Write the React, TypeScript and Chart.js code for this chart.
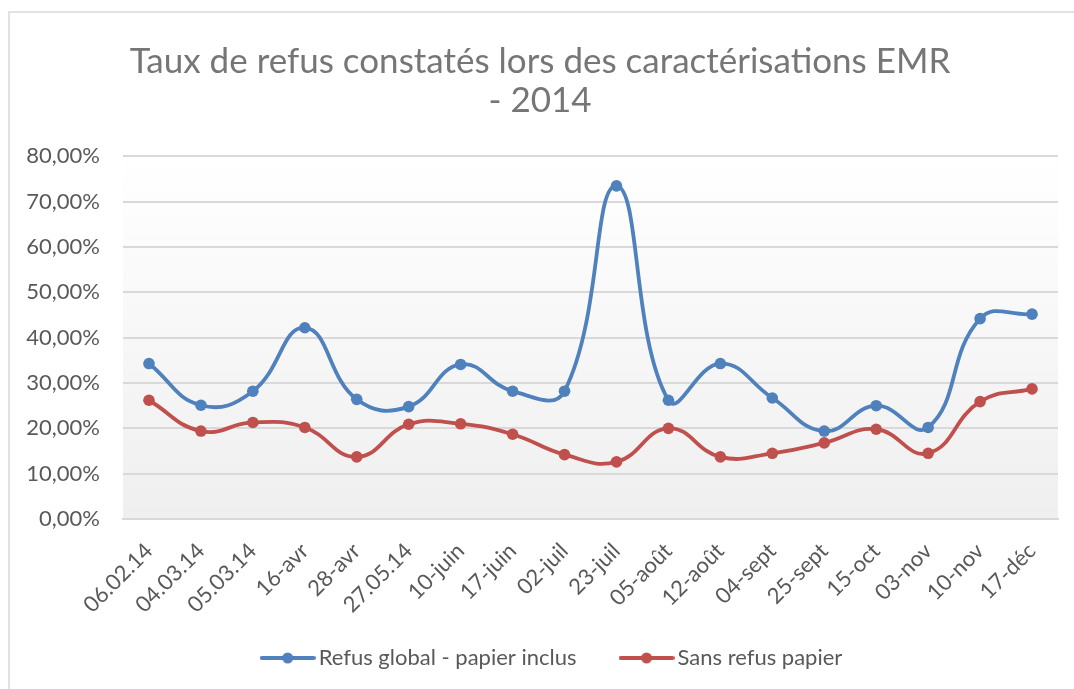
import React, { useEffect, useRef } from "react";
import { Chart, registerables } from "chart.js";

Chart.register(...registerables);

const categories = [
  "06.02.14", "04.03.14", "05.03.14", "16-avr", "28-avr", "27.05.14", "10-juin", "17-juin", "02-juil",
  "23-juil", "05-août", "12-août", "04-sept", "25-sept", "15-oct", "03-nov", "10-nov", "17-déc",
];
const refusGlobal = [34.3, 25.1, 28.2, 42.2, 26.4, 24.8, 34.1, 28.2, 28.2, 73.5, 26.2, 34.3, 26.7, 19.4, 25.0, 20.2, 44.2, 45.2];
const sansRefusPapier = [26.2, 19.4, 21.3, 20.2, 13.7, 20.9, 21.0, 18.7, 14.2, 12.6, 20.0, 13.7, 14.5, 16.8, 19.8, 14.5, 25.9, 28.7];
const seriesNames = ["Refus global - papier inclus", "Sans refus papier"];
const titleLines = ["Taux de refus constatés lors des caractérisations EMR", "- 2014"];

const BLUE = "#4f81bd";
const RED = "#c0504d";
const FONT = "Lato, 'Open Sans', sans-serif";

function legendIcon(color: string): HTMLCanvasElement {
  const c = document.createElement("canvas");
  c.width = 56;
  c.height = 14;
  const g = c.getContext("2d")!;
  g.strokeStyle = color;
  g.lineWidth = 4;
  g.lineCap = "round";
  g.beginPath();
  g.moveTo(2, 7);
  g.lineTo(54, 7);
  g.stroke();
  g.fillStyle = color;
  g.beginPath();
  g.arc(28, 7, 5.5, 0, Math.PI * 2);
  g.fill();
  return c;
}

const frame = {
  id: "frame",
  afterLayout(chart: any) {
    // let rotated x labels use the space down to the legend text, and nudge legend
    if (chart.scales.x) chart.scales.x.bottom = chart.height - 50;
    if (chart.legend) {
      chart.legend.left += 15;
      chart.legend.right += 15;
    }
  },
  beforeDraw(chart: any) {
    const { ctx, chartArea } = chart;
    ctx.save();
    ctx.fillStyle = "#ffffff";
    ctx.fillRect(0, 0, chart.width, chart.height);
    ctx.strokeStyle = "#d9d9d9";
    ctx.lineWidth = 1.5;
    ctx.strokeRect(9, 12, chart.width + 20, chart.height + 20);
    const grad = ctx.createLinearGradient(0, chartArea.top, 0, chartArea.bottom);
    grad.addColorStop(0, "#ffffff");
    grad.addColorStop(1, "#efefef");
    ctx.fillStyle = grad;
    ctx.fillRect(chartArea.left, chartArea.top, chartArea.right - chartArea.left, chartArea.bottom - chartArea.top);
    ctx.restore();
  },
};

export default function App() {
  const ref = useRef<HTMLCanvasElement>(null);
  useEffect(() => {
    document.body.style.margin = "0";
    const icons = [legendIcon(BLUE), legendIcon(RED)];
    const chart = new Chart(ref.current!, {
      type: "line",
      data: {
        labels: categories,
        datasets: [
          {
            label: seriesNames[0],
            data: refusGlobal,
            borderColor: BLUE,
            backgroundColor: BLUE,
            borderWidth: 3.8,
            pointRadius: 5.8,
            pointBackgroundColor: BLUE,
            pointBorderWidth: 0,
            tension: 0.45,
          },
          {
            label: seriesNames[1],
            data: sansRefusPapier,
            borderColor: RED,
            backgroundColor: RED,
            borderWidth: 3.8,
            pointRadius: 5.8,
            pointBackgroundColor: RED,
            pointBorderWidth: 0,
            tension: 0.45,
          },
        ],
      },
      options: {
        responsive: false,
        animation: false,
        layout: { padding: { left: 22, right: 16, top: 0, bottom: 10 } },
        plugins: {
          title: {
            display: true,
            text: titleLines,
            color: "#767676",
            font: { family: FONT, size: 35, weight: "normal", lineHeight: 1.12 },
            padding: { top: 42, bottom: 36 },
          },
          legend: {
            position: "bottom",
            labels: {
              color: "#595959",
              font: { family: FONT, size: 22 },
              usePointStyle: true,
              pointStyleWidth: 40,
              boxHeight: 14,
              padding: 50,
              generateLabels: (ch: any) =>
                ch.data.datasets.map((ds: any, i: number) => ({
                  text: ds.label,
                  fillStyle: ds.borderColor,
                  strokeStyle: ds.borderColor,
                  lineWidth: 0,
                  pointStyle: icons[i],
                  datasetIndex: i,
                  hidden: false,
                  fontColor: "#595959",
                })),
            },
          },
          tooltip: { enabled: false },
        },
        scales: {
          x: {
            offset: true,
            grid: { display: false, drawTicks: false },
            border: { display: true, color: "#d9d9d9", width: 2 },
            ticks: {
              color: "#595959",
              font: { family: FONT, size: 22 },
              maxRotation: 45,
              minRotation: 45,
              padding: 19,
              autoSkip: false,
            },
            afterFit: (s: any) => {
              s.height = 78;
            },
          },
          y: {
            min: 0,
            max: 80,
            grid: { color: "#d9d9d9", lineWidth: 2, drawTicks: false },
            border: { display: false },
            ticks: {
              stepSize: 10,
              color: "#595959",
              font: { family: FONT, size: 22 },
              padding: 23,
              callback: (v: any) => Number(v).toFixed(2).replace(".", ",") + "%",
            },
            afterFit: (s: any) => {
              s.width = 101;
            },
          },
        },
      },
      plugins: [frame],
    });
    return () => chart.destroy();
  }, []);
  return <canvas ref={ref} width={1074} height={689} style={{ display: "block" }} />;
}
